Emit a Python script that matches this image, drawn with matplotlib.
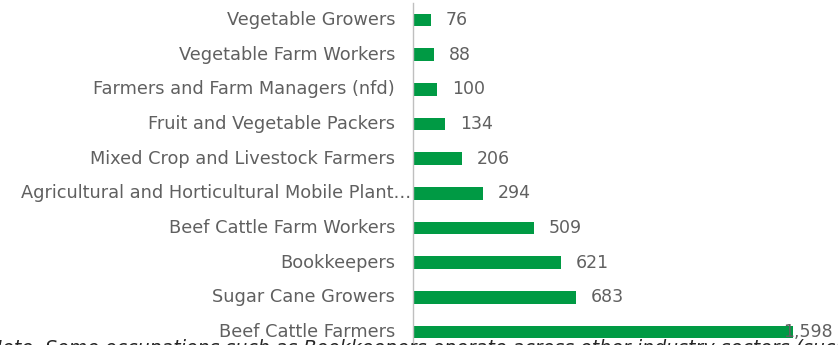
import matplotlib
matplotlib.use("Agg")
import matplotlib.pyplot as plt

# Occupation counts, top to bottom
occupations = [
    "Vegetable Growers",
    "Vegetable Farm Workers",
    "Farmers and Farm Managers (nfd)",
    "Fruit and Vegetable Packers",
    "Mixed Crop and Livestock Farmers",
    "Agricultural and Horticultural Mobile Plant\u2026",
    "Beef Cattle Farm Workers",
    "Bookkeepers",
    "Sugar Cane Growers",
    "Beef Cattle Farmers",
]
counts = [76, 88, 100, 134, 206, 294, 509, 621, 683, 1598]
note_text = ("Note. Some occupations such as Bookkeepers operate across "
             "other industry sectors (such")

BAR_GREEN = "#009A44"
TEXT_GREY = "#606060"
AXIS_GREY = "#BFBFBF"

plt.rcParams["font.family"] = ["DejaVu Sans"]

W, H, DPI = 838, 345, 100
fig = plt.figure(figsize=(W / DPI, H / DPI), dpi=DPI)

ax_left = 413 / W
ax_top = 1 - 2.7 / H
ax_bottom = -4.3 / H
ax = fig.add_axes([ax_left, ax_bottom, 1 - ax_left, ax_top - ax_bottom])

y = list(range(len(occupations)))
ax.barh(y, counts, height=0.36, color=BAR_GREEN)
ax.set_ylim(len(occupations) - 0.5, -0.5)
ax.set_xlim(0, 1786)

for s in ["top", "right", "bottom"]:
    ax.spines[s].set_visible(False)
ax.spines["left"].set_color(AXIS_GREY)
ax.spines["left"].set_linewidth(1.0)
ax.set_xticks([])
ax.set_yticks([])

pt = 72 / DPI
for i, (name, v) in enumerate(zip(occupations, counts)):
    pad = 2 if name.endswith("\u2026") else 18
    ax.annotate(name, xy=(0, i), xytext=(-pad * pt, 0), textcoords="offset points",
                ha="right", va="center", fontsize=12.8, color=TEXT_GREY,
                annotation_clip=False)
    off = 15 if v < 1500 else -10
    ax.annotate(f"{v:,}", xy=(v, i), xytext=(off * pt, 0), textcoords="offset points",
                ha="left", va="center", fontsize=12.5, color=TEXT_GREY,
                annotation_clip=False)

fig.text(-12 / W, 1 - 339 / H, note_text, ha="left", va="top", fontsize=13.7,
         style="italic", color="#262626")

fig.savefig("out.png", dpi=DPI)
